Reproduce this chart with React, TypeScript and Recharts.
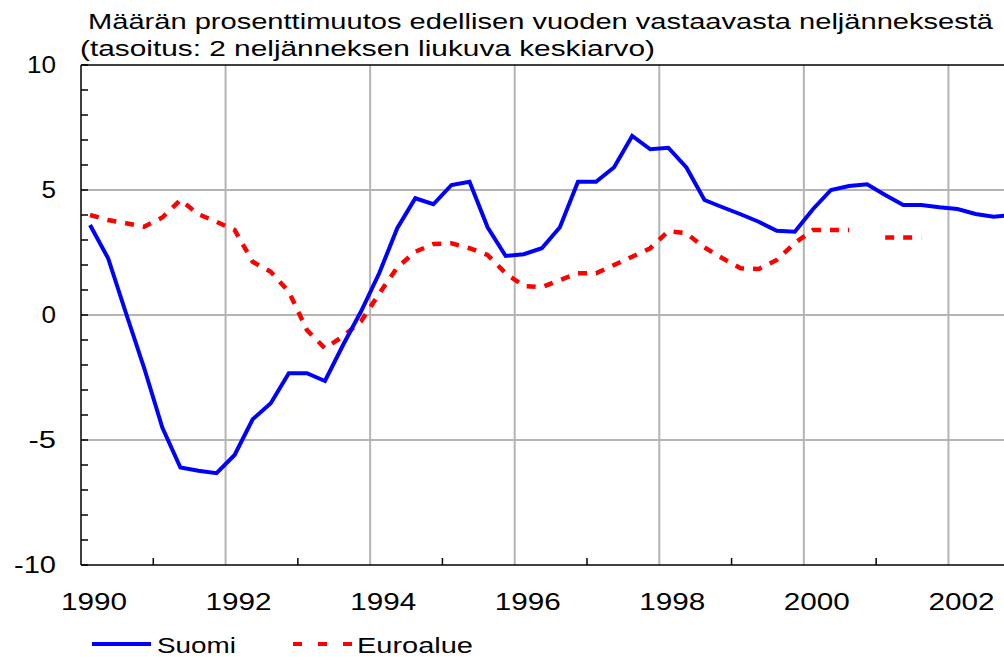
import React from 'react'
import { LineChart, Line, XAxis, YAxis, ReferenceLine } from 'recharts'

// quarters 1990Q1 .. 2002Q4, plotted at the middle of each quarter
const quarters = Array.from({ length: 52 }, (_, i) => `${1990 + Math.floor(i / 4)}Q${(i % 4) + 1}`)

const suomi = [
  3.6, 2.27, 0.05, -2.13, -4.5, -6.1, -6.23, -6.33,
  -5.6, -4.17, -3.53, -2.33, -2.33, -2.64, -1.2, 0.15,
  1.67, 3.47, 4.67, 4.43, 5.2, 5.33, 3.51, 2.36,
  2.43, 2.67, 3.51, 5.33, 5.33, 5.91, 7.16, 6.63,
  6.69, 5.9, 4.6, 4.31, 4.03, 3.73, 3.37, 3.33,
  4.23, 5.0, 5.16, 5.23, 4.8, 4.4, 4.4, 4.31,
  4.24, 4.04, 3.93, 4.0,
]

const euroalue: (number | null)[] = [
  4.0, 3.8, 3.67, 3.53, 3.9, 4.6, 4.03, 3.73,
  3.4, 2.13, 1.73, 0.93, -0.6, -1.33, -0.85, -0.25,
  0.85, 1.9, 2.53, 2.84, 2.87, 2.67, 2.4, 1.67,
  1.16, 1.11, 1.4, 1.67, 1.67, 2.0, 2.33, 2.67,
  3.36, 3.27, 2.7, 2.27, 1.87, 1.84, 2.2, 2.88,
  3.4, 3.4, 3.4, null, 3.1, 3.1, 3.1, null,
  null, null, null, null,
]

// visible part of the axis: 1990 .. 2003 (the frame runs on to 2004)
const yearTicks = [1990, 1991, 1992, 1993, 1994, 1995, 1996, 1997, 1998, 1999, 2000, 2001, 2002, 2003]
const yearGrid = [1992, 1994, 1996, 1998, 2000, 2002]
const valueTicks = [-10, -9, -8, -7, -6, -5, -4, -3, -2, -1, 0, 1, 2, 3, 4, 5, 6, 7, 8, 9, 10]
const valueGrid = [-5, 0, 5]

const FONT = '"Liberation Sans", Arial, sans-serif'

const data = quarters.map((q, i) => {
  const [y, qq] = q.split('Q')
  return { t: Number(y) + (Number(qq) - 0.5) / 4, suomi: suomi[i], euroalue: euroalue[i] }
})

function XTick(props: any) {
  const { x, y, payload } = props
  const v = payload.value as number
  if (v % 2 === 1) {
    return <line x1={x} x2={x} y1={y} y2={y - 7} stroke="#000" strokeWidth={1.5} />
  }
  return (
    <text
      x={x + 13}
      y={y + 45}
      textAnchor="middle"
      fontFamily={FONT}
      fontSize={23}
      fill="#000"
      textLength={66}
      lengthAdjust="spacingAndGlyphs"
    >
      {v}
    </text>
  )
}

function YTick(props: any) {
  const { x, y, payload } = props
  const v = payload.value as number
  const label = String(v)
  const w = label.replace('-', '').length * 14.5 + (v < 0 ? 13 : 0)
  return (
    <g>
      <line x1={x} x2={x + 7} y1={y} y2={y} stroke="#000" strokeWidth={1.5} />
      {v % 5 === 0 && (
        <text
          x={56}
          y={y + 8}
          textAnchor="end"
          fontFamily={FONT}
          fontSize={23}
          fill="#000"
          textLength={w}
          lengthAdjust="spacingAndGlyphs"
        >
          {label}
        </text>
      )}
    </g>
  )
}

export default function App() {
  return (
    <div
      style={{
        position: 'absolute',
        left: 0,
        top: 0,
        width: 1004,
        height: 657,
        overflow: 'hidden',
        background: '#fff',
      }}
    >
      <LineChart width={1101} height={657} data={data} margin={{ top: 65, right: 8, bottom: 0, left: 0 }}>
        {yearGrid.map((yr) => (
          <ReferenceLine key={yr} x={yr} stroke="#b4b4b4" strokeWidth={2} />
        ))}
        {valueGrid.map((v) => (
          <ReferenceLine key={v} y={v} stroke="#b4b4b4" strokeWidth={2} />
        ))}
        <ReferenceLine y={10} stroke="#000" strokeWidth={1.5} />
        <ReferenceLine x={2004} stroke="#000" strokeWidth={1.5} />
        <XAxis
          dataKey="t"
          type="number"
          domain={[1990, 2004]}
          ticks={yearTicks}
          interval={0}
          height={92}
          tickSize={0}
          tickMargin={0}
          tickLine={false}
          axisLine={{ stroke: '#000', strokeWidth: 1.5 }}
          tick={(p: any) => <XTick {...p} />}
        />
        <YAxis
          type="number"
          domain={[-10, 10]}
          ticks={valueTicks}
          interval={0}
          width={81}
          tickSize={0}
          tickMargin={0}
          tickLine={false}
          axisLine={{ stroke: '#000', strokeWidth: 1.5 }}
          tick={(p: any) => <YTick {...p} />}
        />
        <Line
          dataKey="euroalue"
          type="linear"
          stroke="#ff0000"
          strokeWidth={4.5}
          strokeDasharray="9 9"
          dot={false}
          connectNulls={false}
          isAnimationActive={false}
        />
        <Line
          dataKey="suomi"
          type="linear"
          stroke="#0000ff"
          strokeWidth={4}
          dot={false}
          isAnimationActive={false}
        />
      </LineChart>
      <svg
        width={1004}
        height={657}
        style={{ position: 'absolute', left: 0, top: 0, pointerEvents: 'none' }}
      >
        <g fontFamily={FONT} fontSize={22} fill="#000">
          <text x={88} y={29} textLength={905} lengthAdjust="spacingAndGlyphs">
            Määrän prosenttimuutos edellisen vuoden vastaavasta neljänneksestä
          </text>
          <text x={80} y={56} textLength={575} lengthAdjust="spacingAndGlyphs">
            (tasoitus: 2 neljänneksen liukuva keskiarvo)
          </text>
          <line x1={92} x2={151} y1={644} y2={644} stroke="#0000ff" strokeWidth={4} />
          <text x={157} y={653} textLength={79} lengthAdjust="spacingAndGlyphs">
            Suomi
          </text>
          <line x1={293} x2={352} y1={644} y2={644} stroke="#ff0000" strokeWidth={4} strokeDasharray="9 16" />
          <text x={357} y={653} textLength={116} lengthAdjust="spacingAndGlyphs">
            Euroalue
          </text>
        </g>
      </svg>
    </div>
  )
}
